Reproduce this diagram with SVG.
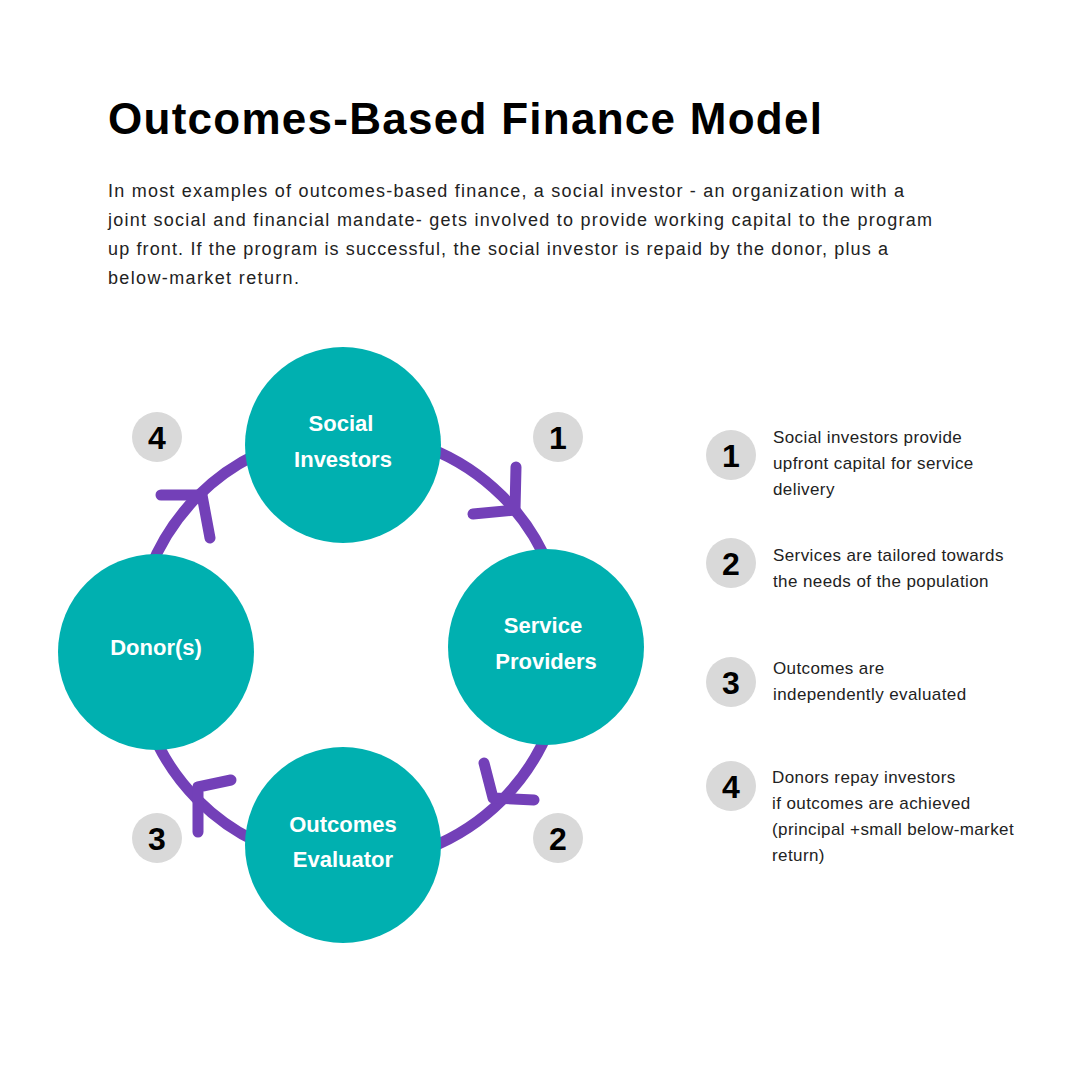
<svg xmlns="http://www.w3.org/2000/svg" width="1080" height="1080" viewBox="0 0 1080 1080">
<style>
.t{font-family:"Liberation Sans",Arial,sans-serif}
.node{fill:#00b0b0}
.nl{font-family:"Liberation Sans",Arial,sans-serif;font-weight:bold;font-size:22px;fill:#fff;text-anchor:middle}
.badge{fill:#d9d9d9}
.bn{font-family:"Liberation Sans",Arial,sans-serif;font-weight:bold;font-size:32px;fill:#000;text-anchor:middle}
.body{font-family:"Liberation Sans",Arial,sans-serif;font-size:18px;fill:#222}
.leg{font-family:"Liberation Sans",Arial,sans-serif;font-size:17px;fill:#222;letter-spacing:0.4px}
.arr{fill:none;stroke:#7340b8;stroke-width:11;stroke-linecap:round;stroke-linejoin:round}
</style>
<rect width="1080" height="1080" fill="#fff"/>
<text class="t" x="108" y="134" font-size="44" font-weight="bold" fill="#000" textLength="714">Outcomes-Based Finance Model</text>
<g class="body">
<text x="108" y="197" textLength="796">In most examples of outcomes-based finance, a social investor - an organization with a</text>
<text x="108" y="226" textLength="824">joint social and financial mandate- gets involved to provide working capital to the program</text>
<text x="108" y="255" textLength="780">up front. If the program is successful, the social investor is repaid by the donor, plus a</text>
<text x="108" y="284" textLength="191">below-market return.</text>
</g>
<g id="connectors">
<circle cx="350" cy="648" r="215" fill="none" stroke="#7340b8" stroke-width="11"/>
<polyline class="arr" points="516,467 515,510 473,514"/>
<polyline class="arr" points="484,763 493,798 534,800"/>
<polyline class="arr" points="231,780 198,787 198,832"/>
<polyline class="arr" points="161,495 202,495 210,538"/>
</g>
<g id="social-investors"><circle class="node" cx="343" cy="445" r="98"/><text class="nl" x="341" y="431">Social</text><text class="nl" x="343" y="467">Investors</text></g>
<g id="service-providers"><circle class="node" cx="546" cy="647" r="98"/><text class="nl" x="543" y="633">Service</text><text class="nl" x="546" y="669">Providers</text></g>
<g id="outcomes-evaluator"><circle class="node" cx="343" cy="845" r="98"/><text class="nl" x="343" y="832">Outcomes</text><text class="nl" x="343" y="867">Evaluator</text></g>
<g id="donors"><circle class="node" cx="156" cy="652" r="98"/><text class="nl" x="156" y="655">Donor(s)</text></g>
<g id="badges">
<circle class="badge" cx="157" cy="437" r="25"/><text class="bn" x="157" y="449">4</text>
<circle class="badge" cx="558" cy="437" r="25"/><text class="bn" x="558" y="449">1</text>
<circle class="badge" cx="157" cy="838" r="25"/><text class="bn" x="157" y="850">3</text>
<circle class="badge" cx="558" cy="838" r="25"/><text class="bn" x="558" y="850">2</text>
</g>
<g id="legend">
<circle class="badge" cx="731" cy="455" r="25"/><text class="bn" x="731" y="467">1</text>
<text class="leg" x="773" y="443">Social investors provide</text><text class="leg" x="773" y="469">upfront capital for service</text><text class="leg" x="773" y="495">delivery</text>
<circle class="badge" cx="731" cy="563" r="25"/><text class="bn" x="731" y="575">2</text>
<text class="leg" x="773" y="561">Services are tailored towards</text><text class="leg" x="773" y="587">the needs of the population</text>
<circle class="badge" cx="731" cy="682" r="25"/><text class="bn" x="731" y="694">3</text>
<text class="leg" x="773" y="674">Outcomes are</text><text class="leg" x="773" y="700">independently evaluated</text>
<circle class="badge" cx="731" cy="786" r="25"/><text class="bn" x="731" y="798">4</text>
<text class="leg" x="772" y="783">Donors repay investors</text><text class="leg" x="772" y="809">if outcomes are achieved</text><text class="leg" x="772" y="835">(principal +small below-market</text><text class="leg" x="772" y="861">return)</text>
</g>
</svg>
